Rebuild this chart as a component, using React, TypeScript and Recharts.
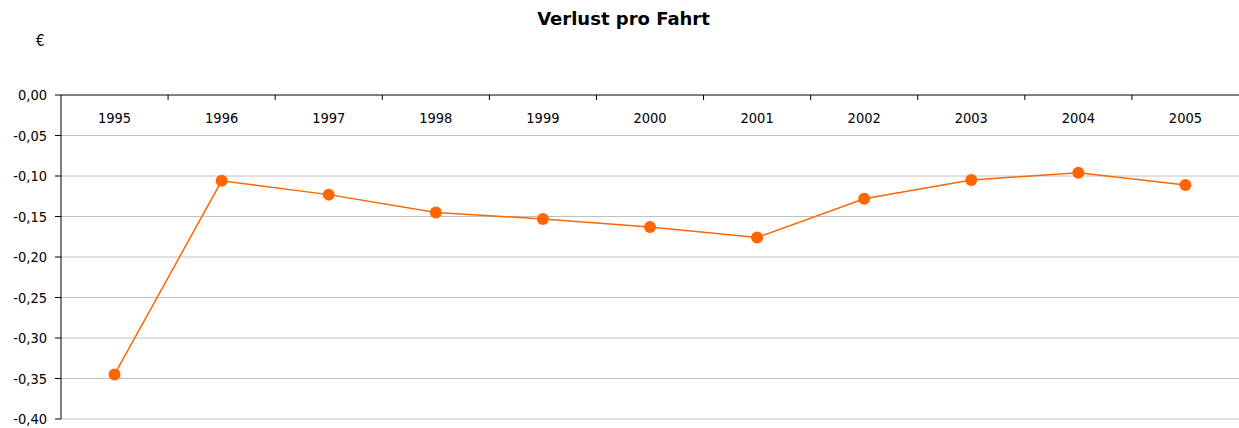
import { CartesianGrid, Line, LineChart, XAxis, YAxis } from "recharts"

const years = ["1995", "1996", "1997", "1998", "1999", "2000", "2001", "2002", "2003", "2004", "2005"]
const lossPerTrip = [-0.345, -0.106, -0.123, -0.145, -0.153, -0.163, -0.176, -0.128, -0.105, -0.096, -0.111]
const yTicks = [0, -0.05, -0.1, -0.15, -0.2, -0.25, -0.3, -0.35, -0.4]

const data = years.map((year, i) => ({ year, value: lossPerTrip[i] }))

const font = "'DejaVu Sans Condensed', 'DejaVu Sans', Verdana, sans-serif"

function YearTick({ x, y, payload, index }: any) {
  const half = payload?.offset ?? 0
  const last = index === years.length - 1
  return (
    <g>
      {!last && <line x1={x + half} x2={x + half} y1={y} y2={y + 5} stroke="#000" strokeWidth={1} />}
      <text x={x} y={y + 28} textAnchor="middle" fontSize={14.5} fontFamily={font} fill="#000">
        {payload.value}
      </text>
    </g>
  )
}

function ValueTick({ x, y, payload }: any) {
  return (
    <text x={x} y={y} dy={5} textAnchor="end" fontSize={14.5} fontFamily={font} fill="#000">
      {Number(payload.value).toFixed(2).replace(".", ",")}
    </text>
  )
}

export default function App() {
  return (
    <div style={{ position: "absolute", left: 0, top: 0, width: 1239, height: 428, background: "#fff" }}>
      <div style={{ position: "absolute", left: 0, width: 1247, top: 8, textAlign: "center", fontWeight: "bold", fontSize: 18, fontFamily: "'DejaVu Sans', sans-serif", color: "#000", lineHeight: "normal" }}>
        Verlust pro Fahrt
      </div>
      <div style={{ position: "absolute", left: 36, top: 32, fontSize: 15, fontFamily: font, color: "#000", lineHeight: "normal" }}>€</div>
      <LineChart width={1239} height={428} data={data} margin={{ top: 94, right: 0, bottom: 9, left: 0 }}>
        <CartesianGrid stroke="#c0c0c0" vertical={false} />
        <XAxis
          dataKey="year"
          orientation="top"
          scale="band"
          height={1}
          tickSize={0}
          tickMargin={0}
          axisLine={{ stroke: "#808080", strokeWidth: 2 }}
          tick={<YearTick />}
          interval={0}
        />
        <YAxis
          width={61}
          domain={[-0.4, 0]}
          ticks={yTicks}
          interval={0}
          tickSize={6}
          tickMargin={8}
          axisLine={{ stroke: "#000" }}
          tickLine={{ stroke: "#000" }}
          tick={<ValueTick />}
        />
        <Line
          type="linear"
          dataKey="value"
          stroke="#ff6600"
          strokeWidth={1.5}
          dot={{ r: 6, fill: "#ff6600", stroke: "#ff6600", strokeWidth: 0 }}
          isAnimationActive={false}
        />
      </LineChart>
    </div>
  )
}
